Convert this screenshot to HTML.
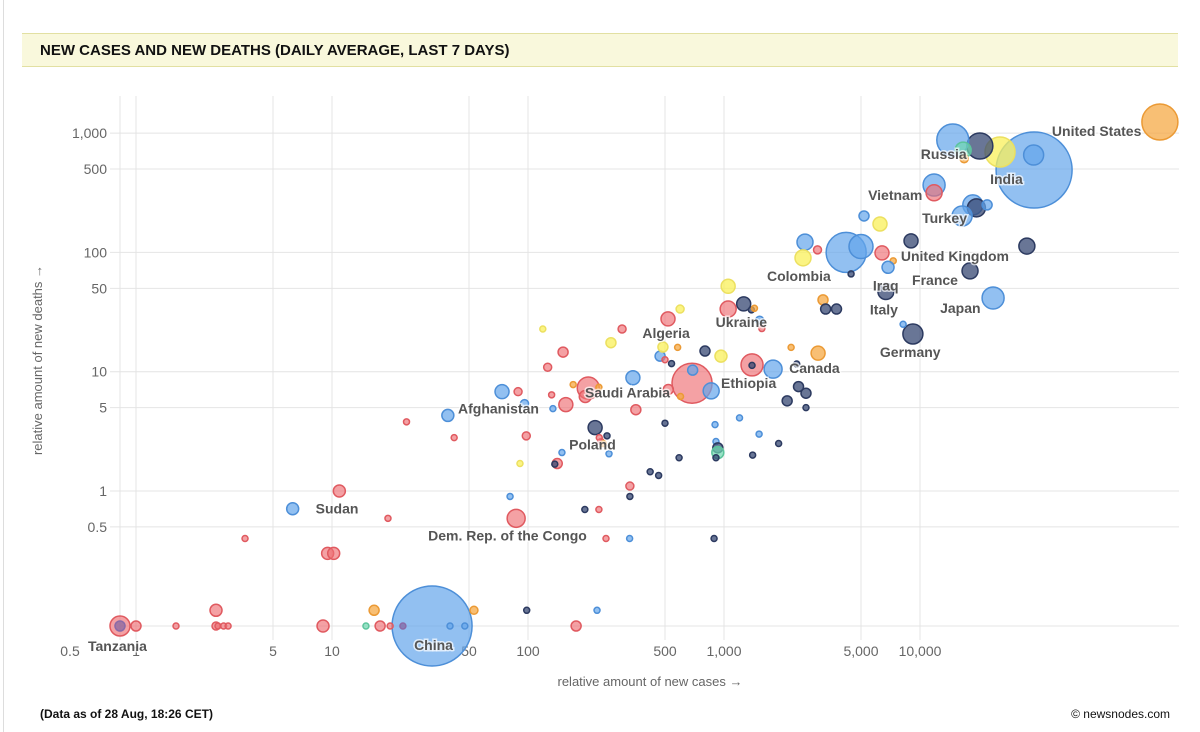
<!DOCTYPE html>
<html><head><meta charset="utf-8">
<style>
html,body{margin:0;padding:0;background:#fff;width:1200px;height:732px;overflow:hidden;font-family:"Liberation Sans",sans-serif}
#frame{position:absolute;left:3px;top:0;width:1px;height:732px;background:#ddd}
#banner{position:absolute;left:22px;top:33px;width:1156px;height:32px;background:#f9f8dc;border-top:1px solid #e2e0a2;border-bottom:1px solid #e2e0a2}
#banner span{position:absolute;left:18px;top:8px;font-weight:bold;font-size:15px;color:#111}
#foot{position:absolute;left:40px;top:707px;font-weight:bold;font-size:12px;color:#111}
#copy{position:absolute;right:30px;top:707px;font-size:12px;color:#111}
svg{position:absolute;left:0;top:0}
</style></head><body>
<div id="frame"></div>
<div id="banner"><span>NEW CASES AND NEW DEATHS (DAILY AVERAGE, LAST 7 DAYS)</span></div>
<svg id="chart" width="1200" height="732"></svg>
<div id="foot">(Data as of 28 Aug, 18:26 CET)</div>
<div id="copy">© newsnodes.com</div>
<script>
// rows of 10 points each (parallel arrays)
const cases  = [
167500,38200,38000,25600,20200,14700,16600,16800,11800,11800,
18600,19400,22000,16400,5180,6250,4200,5000,2590,3000,
2530,4450,6400,7300,6870,9000,35100,18000,23600,6700,
9200,8200,3200,3300,3750,1050,1260,1050,1380,1430,
1520,1560,597,518,302,265,119,151,126,472,
500,540,488,580,800,965,1390,1390,1780,3020,
2350,2200,2620,2400,2620,2100,687,692,860,600,
520,343,203,170,230,196,156,355,89,73.7,
132,96,134,39,24,42,98,220,253,236,
242,231,141,137,149,91,259,500,590,420,
464,900,1200,1510,1900,910,930,930,910,1400,
331,331,81,195,230,87,250,330,890,10.9,
6.3,19.3,3.6,9.5,10.2,32.4,0,0,1,1.6,
2.56,2.62,2.8,2.95,9,14.9,17.6,19.8,23,40,
47.6,176,2.56,16.4,53,98.5,225];
const deaths = [
1240,490,655,695,780,875,720,610,367,316,
250,236,250,202,202,173,100,112,122,105,
90,66,99,85,75,125,113,70,41.5,47,
20.7,25,40,33.5,33.5,52,37,33.5,33,34,
27,23,33.5,27.7,22.8,17.5,22.8,14.6,10.9,13.5,
12.6,11.7,16.1,16,14.9,13.5,11.4,11.3,10.5,14.3,
11.6,16,6.6,7.5,5,5.7,8.0,10.3,6.9,6.2,
7.1,8.9,7.3,7.8,7.4,6.2,5.3,4.8,6.8,6.8,
6.4,5.4,4.9,4.3,3.8,2.8,2.9,3.4,2.9,2.6,
2.5,2.8,1.7,1.68,2.1,1.7,2.05,3.7,1.9,1.45,
1.35,3.6,4.1,3.0,2.5,2.6,2.3,2.1,1.9,2.0,
1.1,0.9,0.9,0.7,0.7,0.59,0.4,0.4,0.4,1.0,
0.71,0.59,0.4,0.30,0.30,0,0,0,0,0,
0,0,0,0,0,0,0,0,0,0,
0,0,0.1,0.1,0.1,0.1,0.1];
const sizes  = [
18,38,10,15,13,16,8,4,11,8,
10,9,5,10,5,7,20,12,8,4,
8,3,7,3,6,7,8,8,11,8,
10,3,5,5,5,7,7,8,3,3,
4,3,4,7,4,5,3,5,4,5,
3,3,5,3,5,6,11,3,9,7,
3,3,5,5,3,5,20,5,8,3,
5,7,11,3,3,6,7,5,4,7,
3,4,3,6,3,3,4,7,3,3,
3,3,5,3,3,3,3,3,3,3,
3,3,3,3,3,3,5,6,3,3,
4,3,3,3,3,9,3,3,3,6,
6,3,3,6,6,40,10,5,5,3,
4,3,3,3,6,3,5,3,3,3,
3,5,6,5,4,3,3];
const groups = [
"o","b","b","y","n","b","g","o","b","r",
"b","n","b","b","b","y","b","b","b","r",
"y","n","r","o","b","n","n","n","b","n",
"n","b","o","n","n","y","n","r","n","o",
"b","r","y","r","r","y","y","r","r","b",
"r","n","y","o","n","y","r","n","b","o",
"n","o","n","n","n","n","r","b","b","o",
"r","b","r","o","o","r","r","r","r","b",
"r","b","b","b","r","r","r","n","n","r",
"o","r","r","n","b","y","b","n","n","n",
"n","b","b","b","n","b","n","g","n","n",
"r","n","b","n","r","r","r","b","n","r",
"b","r","r","r","r","b","r","p","r","r",
"r","r","r","r","r","g","r","r","p","b",
"b","r","r","o","o","n","b"];
const labelNames = ["United States","Russia","India","Vietnam","Turkey","United Kingdom","Colombia","France","Iraq","Japan","Italy","Ukraine","Germany","Algeria","Canada","Ethiopia","Saudi Arabia","Afghanistan","Poland","Sudan","Dem. Rep. of the Congo","Tanzania","China"];
const labelCases = [167500,14700,38200,11800,16400,35100,2530,18000,6700,23600,6700,1260,9200,520,1780,1390,687,73.7,220,6.3,87,0,32.4];
const labelDeaths= [1240,875,490,316,202,113,90,70,47,41.5,47,37,20.7,27.7,10.5,11.4,8.0,6.8,3.4,0.71,0.59,0,0];
const labelDx = [-108,-32,-44,-66,-40,-126,-36,-58,-13,-53,-16,-28,-33,-26,16,-31,-107,-44,-26,23,-88,-32,-18];
const labelDy = [14,19,14,7,7,15,23,14,-1,15,23,23,23,19,4,23,14,22,22,5,22,25,24];
const xTicks = [0.5,1,5,10,50,100,500,1000,5000,10000];
const xTickLabels = ["0.5","1","5","10","50","100","500","1,000","5,000","10,000"];
const yTicks = [0.5,1,5,10,50,100,500,1000];
const yTickLabels = ["0.5","1","5","10","50","100","500","1,000"];

const NS="http://www.w3.org/2000/svg";
const svg=document.getElementById('chart');
const L=120,R=1179,T=96,ZERO_Y=626;
function xs(v){ if(v<=0) return L; return 332+196*Math.log10(v/10); }
function ys(v){ if(v<=0) return ZERO_Y; return 491-119.3*Math.log10(v); }
function mk(tag,attrs,parent){const e=document.createElementNS(NS,tag);for(const k in attrs)e.setAttribute(k,attrs[k]);(parent||svg).appendChild(e);return e;}
const fills={b:["rgba(100,165,235,0.7)","#4d8fd8"],n:["rgba(55,72,115,0.75)","#2c3a60"],r:["rgba(238,110,115,0.65)","#e05a60"],y:["rgba(250,240,90,0.75)","#ece060"],o:["rgba(245,170,70,0.75)","#eb9a35"],g:["rgba(110,215,175,0.7)","#5cc49c"],p:["rgba(130,100,160,0.7)","#8a6aa8"]};

const grid=mk('g',{});


xTicks.forEach((t,i)=>{
  const x=t===0.5?L:xs(t);
  const ln=mk('line',{x1:x,x2:x,y1:T,y2:640,stroke:'#e4e4e4','stroke-width':1},grid);
  
  
  const tx=mk('text',{x:t===0.5?70:xs(t),y:656,'text-anchor':'middle','font-size':14,fill:'#666','font-family':'Liberation Sans, sans-serif'});
  tx.textContent=xTickLabels[i];
  
  
});
yTicks.forEach((t,i)=>{
  const y=ys(t);
  const ln=mk('line',{x1:110,x2:R,y1:y,y2:y,stroke:'#e4e4e4','stroke-width':1},grid);
  
  
  const tx=mk('text',{x:107,y:y+5,'text-anchor':'end','font-size':14,fill:'#666','font-family':'Liberation Sans, sans-serif'});
  tx.textContent=yTickLabels[i];
  
  
});
const zl=mk('line',{x1:L,x2:R,y1:ZERO_Y,y2:ZERO_Y,stroke:'#e4e4e4'},grid);


const ln1=mk('line',{x1:L,x2:L,y1:T,y2:640,stroke:'#e4e4e4'},grid);



const xt=mk('text',{x:650,y:686,'text-anchor':'middle','font-size':13,fill:'#666','font-family':'Liberation Sans, sans-serif'});
xt.textContent='relative amount of new cases →';


const yt=mk('text',{x:0,y:0,transform:'translate(42,360) rotate(-90)','text-anchor':'middle','font-size':13,fill:'#666','font-family':'Liberation Sans, sans-serif'});
yt.textContent='relative amount of new deaths →';



const pts=mk('g',{});


cases.forEach((c,i)=>{
  const f=fills[groups[i]]||fills.r;
  const ci=mk('circle',{cx:xs(c),cy:ys(deaths[i]),r:sizes[i],fill:f[0],stroke:f[1],'stroke-width':1.5},pts);
  
  
});
const lg=mk('g',{});


labelNames.forEach((n,i)=>{
  const x=xs(labelCases[i])+labelDx[i], y=ys(labelDeaths[i])+labelDy[i];
  const t=mk('text',{x:x,y:y,'font-size':14,'font-weight':'bold',fill:'#555',stroke:'#fff','stroke-width':3,'paint-order':'stroke','stroke-opacity':0.7,'font-family':'Liberation Sans, sans-serif'},lg);
  t.textContent=n;
  
  
});
</script>
</body></html>
